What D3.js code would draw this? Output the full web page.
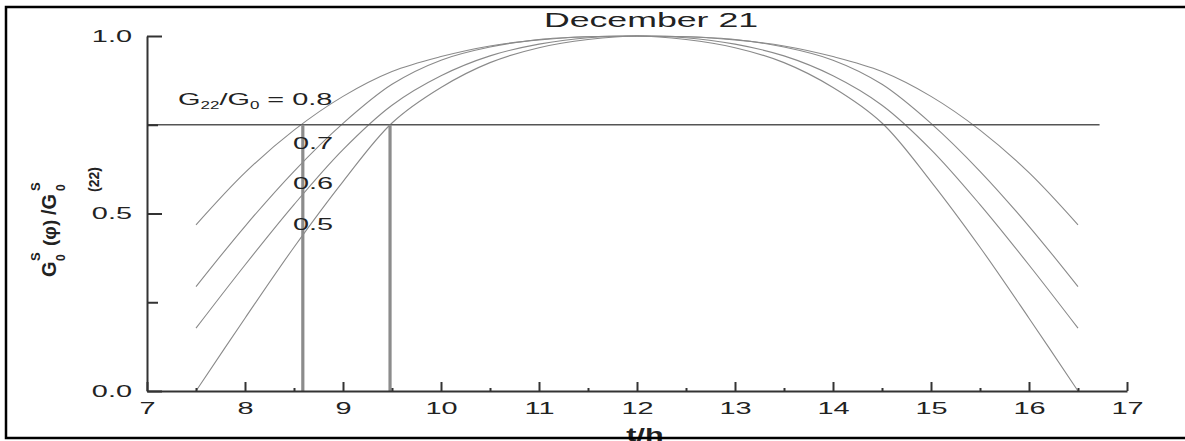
<!DOCTYPE html>
<html>
<head>
<meta charset="utf-8">
<script src="https://cdn.jsdelivr.net/npm/d3@7"></script>
<style>
  html, body { margin: 0; padding: 0; background: #fff; }
  svg { display: block; }
  text { font-family: "Liberation Sans", Arial, sans-serif; fill: #222; }
</style>
</head>
<body>
<svg id="chart" width="1185" height="441"></svg>
<script>
// ---- data ----
const hours = [7.5, 8, 8.5, 9, 9.5, 10, 10.5, 11, 11.5, 12, 12.5, 13, 13.5, 14, 14.5, 15, 15.5, 16, 16.5];
const ratio08 = [0.468, 0.615, 0.735, 0.83, 0.90, 0.942, 0.972, 0.989, 0.998, 1.0, 0.998, 0.989, 0.972, 0.942, 0.90, 0.83, 0.735, 0.615, 0.468];
const ratio07 = [0.294, 0.464, 0.619, 0.754, 0.864, 0.932, 0.969, 0.99, 0.998, 1.0, 0.998, 0.99, 0.969, 0.932, 0.864, 0.754, 0.619, 0.464, 0.294];
const ratio06 = [0.177, 0.355, 0.525, 0.68, 0.805, 0.888, 0.944, 0.977, 0.995, 1.0, 0.995, 0.977, 0.944, 0.888, 0.805, 0.68, 0.525, 0.355, 0.177];
const ratio05 = [0.0, 0.205, 0.405, 0.59, 0.755, 0.855, 0.925, 0.967, 0.99, 1.0, 0.99, 0.967, 0.925, 0.855, 0.755, 0.59, 0.405, 0.205, 0.0];
const curveLabels = ["0.7", "0.6", "0.5"];
const curveLabelValues = [0.70, 0.585, 0.47];
const thresholdValue = 0.75;
const thresholdEnd = 16.72;
const markerHours = [8.59, 9.48];
const xTicks = [7, 8, 9, 10, 11, 12, 13, 14, 15, 16, 17];
const xMinorTicks = [7.5, 8.5, 9.5, 10.5, 11.5, 12.5, 13.5, 14.5, 15.5, 16.5];
const yTicks = [0.0, 0.5, 1.0];
const yMinorTicks = [0.25, 0.75];
const titleText = "December 21";
const xTitle = "t/h";

// ---- layout ----
const SX = 1.7; // horizontal stretch of the lettering in the reference
const svg = d3.select("#chart");
const x = d3.scaleLinear().domain([7, 17]).range([147, 1127]);
const y = d3.scaleLinear().domain([0, 1]).range([391, 36]);

function stext(parent, px, py, str, size, anchor, weight) {
  const g = parent.append("g").attr("transform", `translate(${px},${py}) scale(${SX},1)`);
  return g.append("text").attr("text-anchor", anchor || "start")
    .attr("font-size", size).attr("font-weight", weight || "normal").text(str);
}

// curves
const line = d3.line().x((d, i) => x(hours[i])).y(d => y(d)).curve(d3.curveCatmullRom.alpha(0.5));
[ratio08, ratio07, ratio06, ratio05].forEach(series => {
  svg.append("path").attr("d", line(series)).attr("fill", "none")
    .attr("stroke", "#8a8a8a").attr("stroke-width", 1.1);
});

// threshold horizontal line
svg.append("line")
  .attr("x1", x(7)).attr("x2", x(thresholdEnd))
  .attr("y1", y(thresholdValue)).attr("y2", y(thresholdValue))
  .attr("stroke", "#555").attr("stroke-width", 1.6);

// vertical markers
markerHours.forEach(h => {
  svg.append("line").attr("x1", x(h)).attr("x2", x(h))
    .attr("y1", y(thresholdValue)).attr("y2", y(0))
    .attr("stroke", "#8c8c8c").attr("stroke-width", 3.2);
});

// axes
const xAxis = svg.append("g").attr("transform", `translate(0,${y(0)})`)
  .call(d3.axisBottom(x).tickValues(xTicks).tickSizeInner(-9).tickSizeOuter(0).tickPadding(11).tickFormat(d3.format("d")));
xAxis.selectAll("text").attr("font-size", 17).attr("fill", "#222")
  .attr("transform", `scale(${SX},1)`).attr("dy", "0.71em");
svg.append("g").attr("transform", `translate(0,${y(0)})`)
  .call(d3.axisBottom(x).tickValues(xMinorTicks).tickSizeInner(-3).tickSizeOuter(0).tickFormat(""))
  .select(".domain").remove();

const yAxis = svg.append("g").attr("transform", `translate(${x(7)},0)`)
  .call(d3.axisLeft(y).tickValues(yTicks).tickSizeInner(-15).tickSizeOuter(0).tickPadding(15 / SX).tickFormat(d3.format(".1f")));
yAxis.selectAll("text").attr("font-size", 17).attr("fill", "#222")
  .attr("transform", `scale(${SX},1)`);
svg.append("g").attr("transform", `translate(${x(7)},0)`)
  .call(d3.axisLeft(y).tickValues(yMinorTicks).tickSizeInner(-11).tickSizeOuter(0).tickFormat(""))
  .select(".domain").remove();

svg.selectAll(".domain, .tick line").attr("stroke", "#333").attr("stroke-width", 2);
svg.selectAll(".tick text").attr("font-family", "Liberation Sans, Arial, sans-serif");

// title
stext(svg, 651, 27, titleText, 21, "middle");

// x title (cut by the frame at the bottom, as in the reference)
stext(svg, 645, 441, xTitle, 18, "middle", "bold");

// G22/G0 = 0.8 label
{
  const g = svg.append("g").attr("transform", `translate(178,105) scale(${SX},1)`);
  const t = g.append("text").attr("font-size", 17);
  t.append("tspan").text("G");
  t.append("tspan").attr("font-size", 10).attr("dy", 4).text("22");
  t.append("tspan").attr("dy", -4).text("/G");
  t.append("tspan").attr("font-size", 10).attr("dy", 4).text("0");
  t.append("tspan").attr("dy", -4).text(" = 0.8");
}

// curve labels
curveLabels.forEach((lab, i) => {
  stext(svg, 293, y(curveLabelValues[i]) + 6, lab, 17, "start");
});

// y axis title (rotated)
{
  const g = svg.append("g").attr("transform", "translate(56,277) rotate(-90)");
  const add = (px, py, str, size) => g.append("text").attr("x", px).attr("y", py)
    .attr("font-size", size).attr("font-weight", "bold").text(str);
  add(0, 0, "G", 20);
  add(16, -16, "S", 13);
  add(16, 9, "0", 12);
  add(31, 0, "(\u03C6)", 19);
  add(62, 0, "/G", 20);
  add(86, -16, "S", 13);
  add(86, 9, "0", 12);
  add(85, 43, "(22)", 14);
}

// frame
svg.append("rect").attr("x", 6).attr("y", 7).attr("width", 1200).attr("height", 431)
  .attr("fill", "none").attr("stroke", "#000").attr("stroke-width", 2.5);
</script>
</body>
</html>
